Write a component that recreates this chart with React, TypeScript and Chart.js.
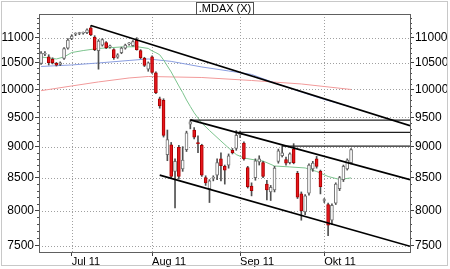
import { useEffect, useRef } from "react";
import { Chart, registerables } from "chart.js";
Chart.register(...registerables);

// trading-day index (0 = 1 Jul 2011), first candle 21 Jun 2011
const FIRST_IDX = -8;
const opens = [10490, 10670, 10620, 10570, 10490, 10470, 10590, 10790, 10980, 11070, 11085, 11090, 11100, 11200, 11010, 10740, 10850, 10900, 10815, 10760, 10610, 10700, 10790, 10875, 10840, 10950, 10740, 10590, 10380, 10620, 10310, 9830, 9800, 8870, 9030, 8600, 8990, 8640, 8950, 9380, 9280, 9060, 9020, 8500, 8330, 8490, 8540, 8800, 8680, 8700, 8940, 8970, 9200, 9060, 8660, 8370, 8500, 8750, 8740, 8400, 8280, 8310, 8760, 8850, 8790, 8740, 8960, 8570, 8250, 7980, 8260, 8640, 8800, 8600, 8150, 8090, 7860, 8110, 8330, 8470, 8640, 8740];
const highs = [10720, 10720, 10660, 10600, 10510, 10520, 10800, 10980, 11060, 11100, 11110, 11115, 11180, 11250, 11040, 10960, 10980, 10920, 10850, 10780, 10680, 10810, 10870, 10900, 10940, 11000, 10760, 10610, 10520, 10640, 10330, 9860, 9830, 9280, 9070, 8800, 9020, 9000, 9260, 9455, 9320, 9180, 9040, 8530, 8470, 8530, 8800, 8900, 8700, 8880, 8970, 9270, 9260, 9080, 8680, 8420, 8800, 8850, 8760, 8460, 8380, 8680, 8960, 9010, 8830, 8900, 9050, 8600, 8280, 8240, 8720, 8760, 8840, 8620, 8180, 8110, 8100, 8420, 8520, 8700, 8800, 8970];
const lows = [10470, 10640, 10460, 10480, 10440, 10450, 10570, 10770, 10960, 11040, 11060, 11070, 11080, 11040, 10740, 10380, 10830, 10780, 10790, 10570, 10590, 10680, 10770, 10850, 10830, 10750, 10580, 10430, 10340, 10300, 9920, 9660, 9160, 8770, 8500, 8040, 8480, 8600, 8920, 9300, 9130, 8900, 8520, 8380, 8120, 8450, 8470, 8450, 8400, 8650, 8880, 8940, 9150, 8780, 8340, 8220, 8460, 8700, 8500, 8160, 8150, 8280, 8730, 8830, 8700, 8720, 8720, 8180, 7860, 7940, 8230, 8600, 8650, 8250, 8120, 7640, 7800, 8090, 8300, 8440, 8620, 8720];
const closes = [10690, 10680, 10505, 10505, 10455, 10500, 10780, 10950, 11030, 11078, 11092, 11098, 11160, 11055, 10760, 10930, 10960, 10800, 10825, 10600, 10660, 10790, 10850, 10885, 10920, 10760, 10600, 10450, 10500, 10320, 9940, 9700, 9190, 9120, 8520, 8760, 8520, 8780, 9230, 9420, 9160, 9050, 8540, 8420, 8450, 8498, 8740, 8690, 8620, 8850, 8900, 9190, 9210, 8800, 8360, 8300, 8770, 8800, 8520, 8310, 8350, 8650, 8930, 8900, 8730, 8880, 8740, 8200, 8000, 8220, 8700, 8730, 8680, 8360, 8160, 7790, 8080, 8400, 8500, 8680, 8780, 8950];

const monthTickIdx = [0, 21, 44, 66];
const monthLabels = ["Jul 11", "Aug 11", "Sep 11", "Okt 11"];
const yTicks = [7500, 8000, 8500, 9000, 9500, 10000, 10500, 11000];

const greenIdx = [-8, -4, -2, 0, 3, 7, 13, 17, 20, 21, 22, 23, 24, 25, 26, 27, 28, 29, 30, 31, 32, 33, 34, 36, 39, 41, 43, 45, 48, 50, 53, 57, 61, 64, 67, 70, 73];
const greenVal = [10616, 10577, 10616, 10703, 10742, 10784, 10813, 10819, 10784, 10734, 10700, 10659, 10558, 10441, 10327, 10194, 10064, 9942, 9807, 9691, 9579, 9488, 9401, 9272, 9094, 8978, 8870, 8814, 8781, 8765, 8685, 8670, 8654, 8598, 8519, 8472, 8497];
const blueIdx = [-8, 0, 7, 15, 20, 26, 34, 41, 47, 52, 60, 66, 73];
const blueVal = [10432, 10461, 10499, 10548, 10577, 10530, 10422, 10346, 10280, 10147, 9953, 9817, 9682];
const redIdx = [-8, 0, 7, 15, 20, 34, 47, 60, 73];
const redVal = [9977, 10064, 10139, 10213, 10241, 10222, 10166, 10101, 9999];

const X_MIN = -8.545;
const X_MAX = 88.4;
const downTrendIdx = [5, X_MAX];
const downTrendVal = [11250, 9354];
const channelTopIdx = [31, X_MAX];
const channelTopVal = [9455, 8469];
const channelBotIdx = [23, X_MAX];
const channelBotVal = [8540, 7491];
const level1Idx = [31, X_MAX];
const level1Val = [9452, 9452];
const level2Idx = [43, X_MAX];
const level2Val = [9241, 9241];
const level3Idx = [55, X_MAX];
const level3Val = [9010, 9010];

const Y_MIN = 7413;
const Y_MAX = 11490;

const pts = (xs: number[], ys: number[]) => xs.map((x, i) => ({ x, y: ys[i] }));

const FONT = "'Liberation Sans', Arial, sans-serif";

const decorPlugin = {
  id: "decor",
  beforeDatasetsDraw(chart: any) {
    const { ctx, chartArea: a, scales } = chart;
    ctx.save();
    ctx.strokeStyle = "#a0a0a0";
    ctx.lineWidth = 1;
    ctx.setLineDash([1, 2]);
    for (const v of yTicks) {
      const y = Math.round(scales.y.getPixelForValue(v)) + 0.5;
      ctx.beginPath();
      ctx.moveTo(a.left, y);
      ctx.lineTo(a.right, y);
      ctx.stroke();
    }
    for (const i of monthTickIdx) {
      const x = Math.round(scales.x.getPixelForValue(i)) + 0.5;
      ctx.beginPath();
      ctx.moveTo(x, a.top);
      ctx.lineTo(x, a.bottom);
      ctx.stroke();
    }
    ctx.restore();
  },
  afterDraw(chart: any) {
    const { ctx, chartArea: a, scales } = chart;
    ctx.save();
    // minor ticks
    ctx.strokeStyle = "#505050";
    ctx.lineWidth = 1;
    for (let v = 7500; v <= 11400; v += 100) {
      if (v % 500 === 0) continue;
      const y = Math.round(scales.y.getPixelForValue(v)) + 0.5;
      ctx.beginPath();
      ctx.moveTo(a.left - 2, y);
      ctx.lineTo(a.left, y);
      ctx.moveTo(a.right, y);
      ctx.lineTo(a.right + 2, y);
      ctx.stroke();
    }
    // plot frame
    ctx.strokeStyle = "#606060";
    ctx.strokeRect(Math.round(a.left) + 0.5, Math.round(a.top) + 0.5, Math.round(a.right - a.left), Math.round(a.bottom - a.top));
    // outer frame
    ctx.strokeStyle = "#c8c8c8";
    ctx.strokeRect(1.5, 1.5, 446, 264);
    // title box
    const title = ".MDAX (X)";
    ctx.font = `11px ${FONT}`;
    const w = ctx.measureText(title).width + 4;
    const cx = (a.left + a.right) / 2;
    const bx = Math.round(cx - w / 2) + 0.5;
    ctx.fillStyle = "#ffffff";
    ctx.fillRect(bx, 2.5, Math.round(w), 12);
    ctx.strokeStyle = "#505050";
    ctx.strokeRect(bx, 2.5, Math.round(w), 12);
    ctx.fillStyle = "#000000";
    ctx.textAlign = "center";
    ctx.textBaseline = "middle";
    ctx.fillText(title, bx + Math.round(w) / 2, 9);
    ctx.restore();
  },
};

export default function App() {
  const ref = useRef<HTMLCanvasElement>(null);
  useEffect(() => {
    document.body.style.margin = "0";
    const idx = opens.map((_, i) => FIRST_IDX + i);
    const isDown = opens.map((o, i) => closes[i] < o);
    const lineDs = (label: string, data: any[], color: string, width: number, order: number) => ({
      type: "line" as const,
      label,
      data,
      borderColor: color,
      borderWidth: width,
      pointRadius: 0,
      tension: 0,
      fill: false,
      order,
    });
    const yAxis = (position: "left" | "right") => ({
      type: "logarithmic" as const,
      position,
      min: Y_MIN,
      max: Y_MAX,
      afterBuildTicks: (s: any) => {
        s.ticks = yTicks.map((v) => ({ value: v }));
      },
      afterFit: (s: any) => {
        s.width = position === "left" ? 39 : 40;
      },
      ticks: {
        callback: (v: any) => String(v),
        color: "#000",
        padding: 1,
        font: { size: 12, family: FONT },
        autoSkip: false,
      },
      grid: { drawOnChartArea: false, tickLength: 4, tickColor: "#404040" },
      border: { display: false },
    });
    const chart = new Chart(ref.current!, {
      type: "bar",
      data: {
        datasets: [
          lineDs("down", pts(downTrendIdx, downTrendVal), "#000000", 1.6, 0),
          lineDs("chTop", pts(channelTopIdx, channelTopVal), "#000000", 1.6, 0),
          lineDs("chBot", pts(channelBotIdx, channelBotVal), "#000000", 1.6, 0),
          lineDs("l1", pts(level1Idx, level1Val), "#202020", 1.2, 0),
          lineDs("l2", pts(level2Idx, level2Val), "#202020", 1.2, 0),
          lineDs("l3", pts(level3Idx, level3Val), "#202020", 1.2, 0),
          {
            type: "bar" as const,
            label: "body",
            data: idx.map((x, i) => ({ x, y: [opens[i], closes[i]] })),
            backgroundColor: isDown.map((d) => (d ? "#e8161c" : "#ffffff")),
            borderColor: isDown.map((d) => (d ? "#a80000" : "#707070")),
            borderWidth: 1,
            borderSkipped: false,
            barThickness: 3,
            minBarLength: 1,
            grouped: false,
            order: 1,
          },
          {
            type: "bar" as const,
            label: "wick",
            data: idx.map((x, i) => ({ x, y: [lows[i], highs[i]] })),
            backgroundColor: "#505050",
            borderWidth: 0,
            barThickness: 1,
            grouped: false,
            order: 2,
          },
          lineDs("ma1", pts(greenIdx, greenVal), "#7cc48e", 1, 3),
          lineDs("ma2", pts(blueIdx, blueVal), "#8a9ee0", 1, 3),
          lineDs("ma3", pts(redIdx, redVal), "#f29a9a", 1, 3),
        ] as any,
      },
      options: {
        responsive: false,
        animation: false,
        devicePixelRatio: 1,
        layout: { padding: { top: 14, left: 0, right: 0, bottom: 0 } },
        plugins: { legend: { display: false }, tooltip: { enabled: false } },
        scales: {
          x: {
            type: "linear",
            min: X_MIN,
            max: X_MAX,
            offset: false,
            afterBuildTicks: (s: any) => {
              s.ticks = monthTickIdx.map((v) => ({ value: v }));
            },
            afterFit: (s: any) => {
              s.height = 17;
            },
            ticks: {
              callback: (_v: any, i: number) => monthLabels[i],
              align: "start",
              color: "#000",
              padding: 0,
              maxRotation: 0,
              autoSkip: false,
              font: { size: 11, family: FONT, lineHeight: 1 },
            },
            grid: { drawOnChartArea: false, offset: false, tickLength: 4, tickColor: "#404040" },
            border: { display: false },
          },
          y: yAxis("left"),
          y2: yAxis("right"),
        } as any,
      },
      plugins: [decorPlugin],
    });
    return () => chart.destroy();
  }, []);
  return (
    <div style={{ width: 450, height: 269 }}>
      <canvas ref={ref} width={450} height={269} />
    </div>
  );
}
